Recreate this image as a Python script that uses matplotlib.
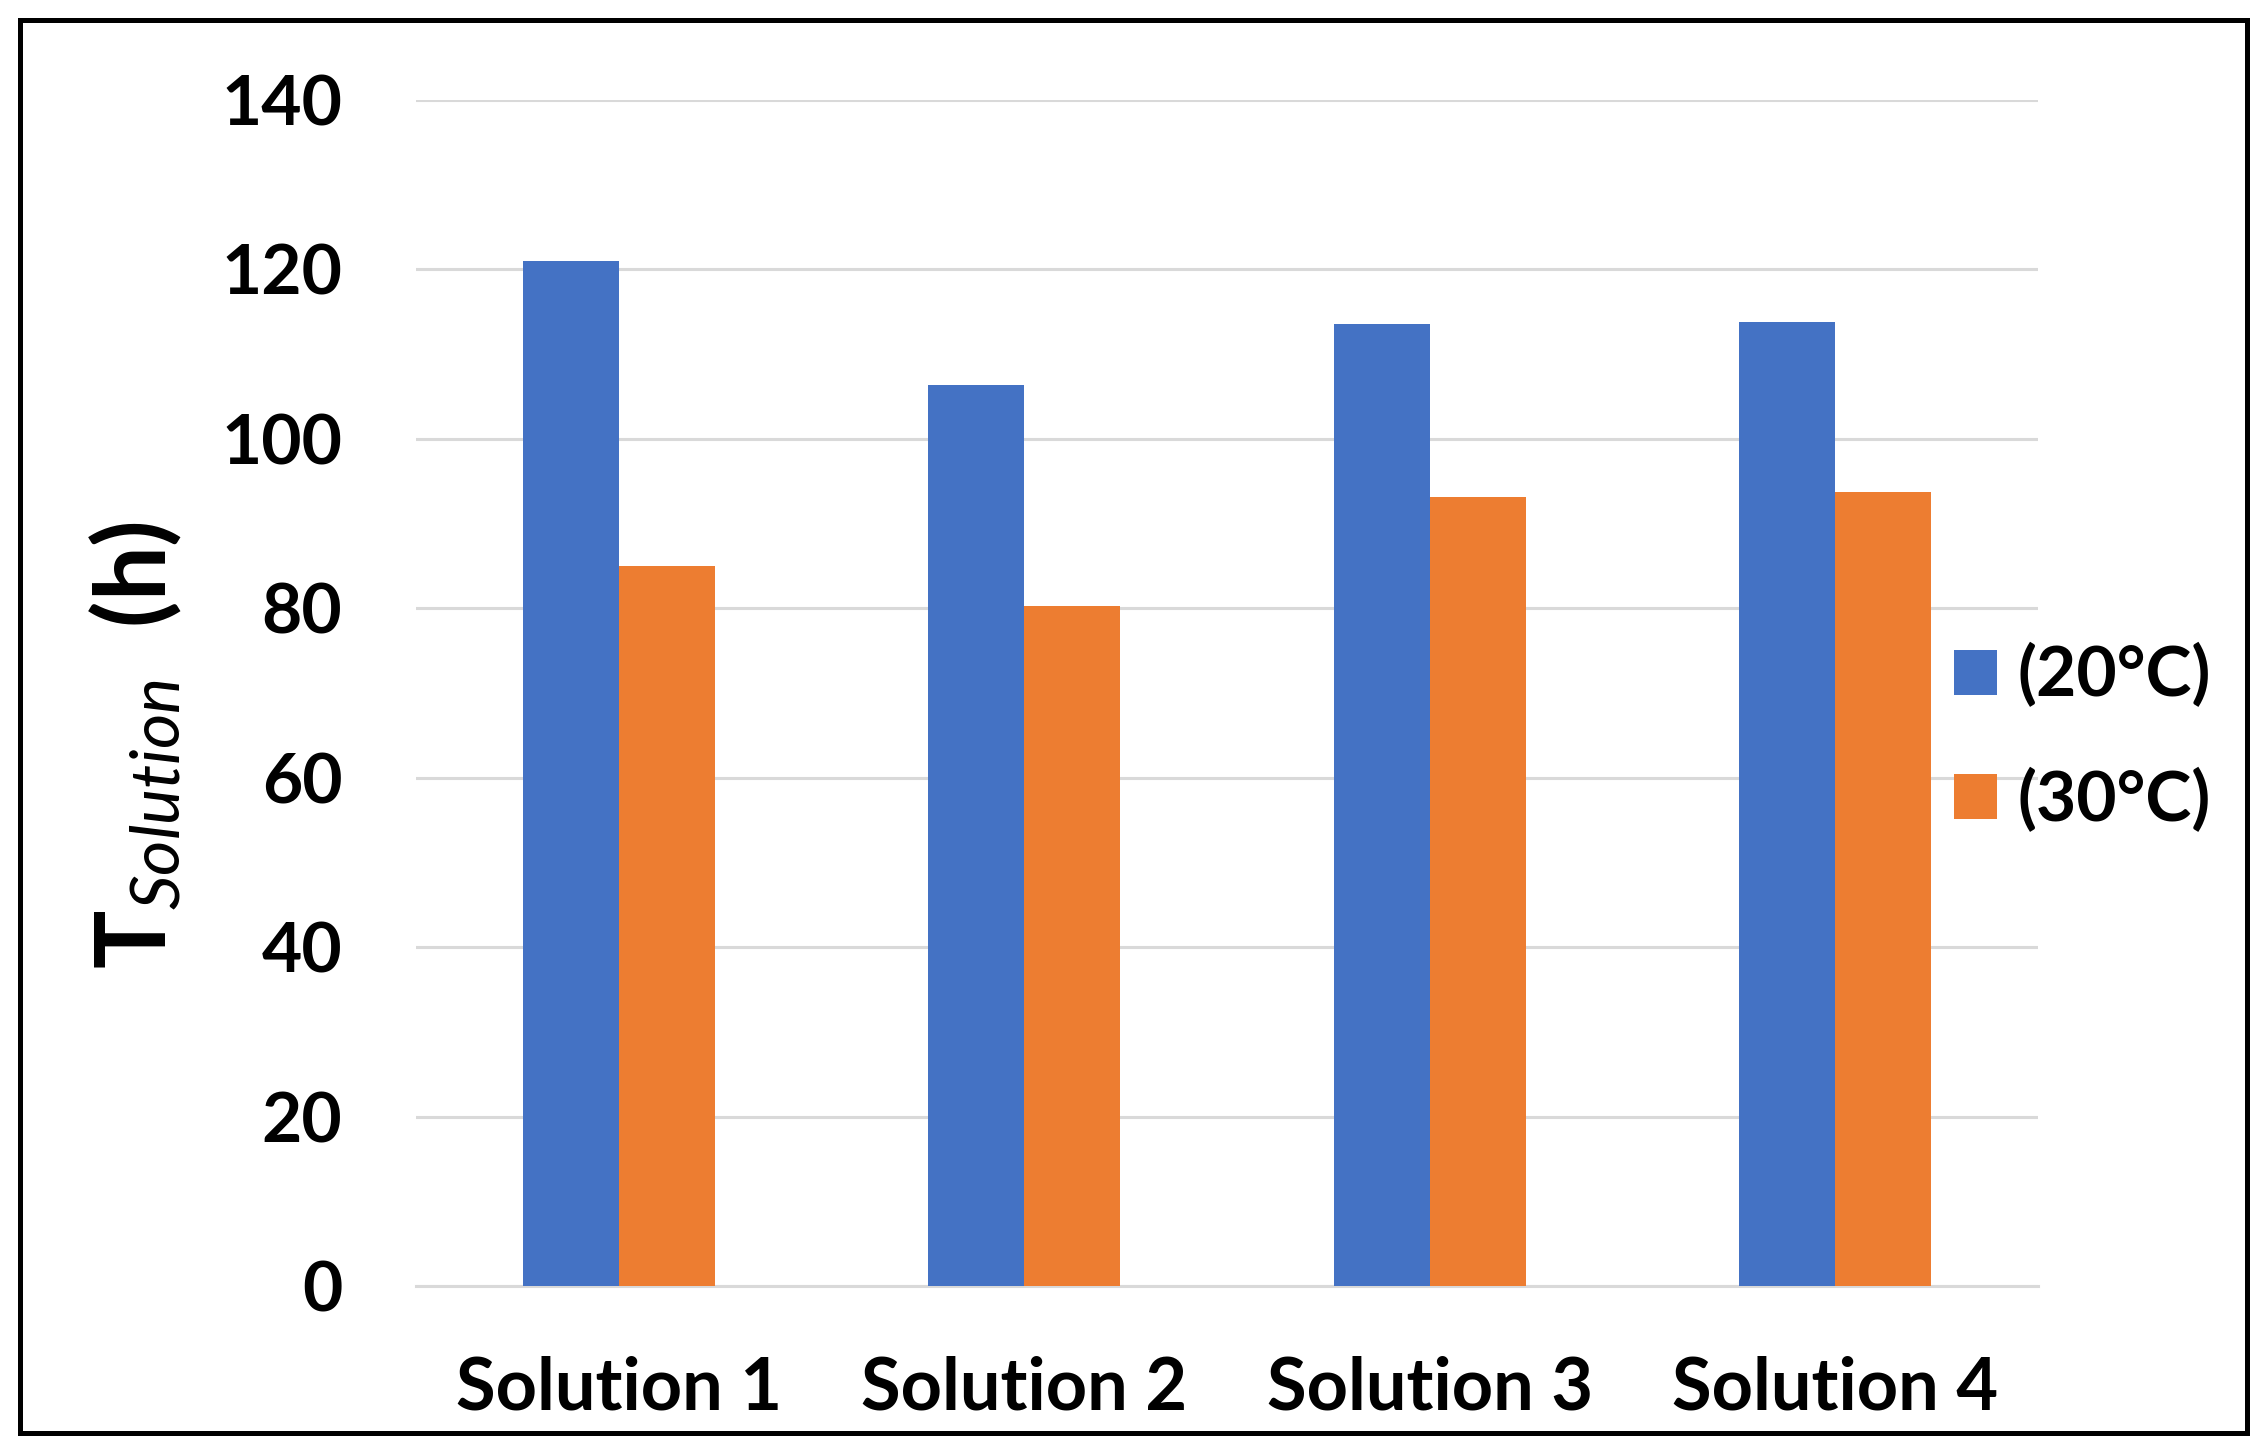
import matplotlib
matplotlib.use("Agg")
import matplotlib.pyplot as plt
import numpy as np
from matplotlib.patches import Rectangle

categories = ["Solution 1", "Solution 2", "Solution 3", "Solution 4"]
t_20 = [121.0, 106.3, 113.5, 113.8]
t_30 = [85.0, 80.3, 93.1, 93.7]
series_names = ["(20°C)", "(30°C)"]
y_ticks = [0, 20, 40, 60, 80, 100, 120, 140]

BLUE = "#4472C4"
ORANGE = "#ED7D31"
GRID = "#D9D9D9"
FONT = "Lato"

plt.rcParams["font.family"] = [FONT, "DejaVu Sans"]
plt.rcParams["mathtext.fontset"] = "custom"
plt.rcParams["mathtext.bf"] = "Lato:bold"
plt.rcParams["mathtext.it"] = "Lato:italic"
plt.rcParams["mathtext.rm"] = "Lato"

fig = plt.figure(figsize=(22.66, 14.49), dpi=100)
ax = fig.add_axes([416 / 2266, 1 - 1286 / 1449, (2038 - 416) / 2266, (1286 - 100) / 1449])

x = np.arange(len(categories))
w = 0.237
ax.bar(x - w / 2, t_20, width=w, color=BLUE, label=series_names[0], zorder=3)
ax.bar(x + w / 2, t_30, width=w, color=ORANGE, label=series_names[1], zorder=3)

ax.set_xlim(-0.5, len(categories) - 0.5)
ax.set_ylim(0, 140)
ax.set_yticks(y_ticks)
ax.set_yticklabels([str(v) for v in y_ticks], fontsize=50, fontweight="bold")
ax.set_xticks(x)
ax.set_xticklabels(categories, fontsize=52, fontweight="bold")
ax.tick_params(axis="both", length=0)
ax.tick_params(axis="y", pad=53)
ax.tick_params(axis="x", pad=50)
ax.grid(axis="y", color=GRID, linewidth=2.2, zorder=0)
for side in ["top", "right", "left"]:
    ax.spines[side].set_visible(False)
ax.spines["bottom"].set_color(GRID)
ax.spines["bottom"].set_linewidth(2.2)

fig.text(135 / 2266, 1 - 745 / 1449, r"$\mathbf{T}_{\mathit{Solution}}$  (h)",
         rotation=90, fontsize=70, fontweight="bold", ha="center", va="center")

ax.legend(loc="center left", bbox_to_anchor=(1954 / 2266, 1 - 738 / 1449),
          bbox_transform=fig.transFigure, frameon=False,
          prop={"weight": "bold", "size": 50},
          handlelength=0.62, handleheight=0.62, handletextpad=0.3,
          labelspacing=0.85, borderpad=0, borderaxespad=0)

fig.patches.append(Rectangle((20 / 2266, 1 - 1433 / 1449), 2227 / 2266, 1413 / 1449,
                             transform=fig.transFigure, fill=False,
                             edgecolor="black", linewidth=3.6))

fig.savefig("out.png", dpi=100)
